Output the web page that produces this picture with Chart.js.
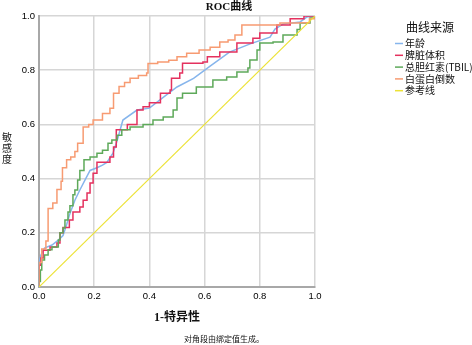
<!DOCTYPE html>
<html>
<head>
<meta charset="utf-8">
<script src="https://cdn.jsdelivr.net/npm/chart.js@4.4.0/dist/chart.umd.min.js"></script>
<style>
  html, body { margin: 0; padding: 0; background: #fff; }
  #wrap { width: 472px; height: 345px; position: relative; }
</style>
</head>
<body>
<div id="wrap"><canvas id="roc" width="472" height="345"></canvas></div>
<script>
// ROC curves, values
var seriesNames = ["年龄", "脾脏体积", "总胆红素(TBIL)", "白蛋白倒数", "参考线"];
var seriesColors = ["#86b5ec", "#e4315e", "#5ea95a", "#f79b72", "#ece236"];
var tickValues = [0.0, 0.2, 0.4, 0.6, 0.8, 1.0];

// 年龄
var ageX = [0, 0, 0.007, 0.02, 0.047, 0.07, 0.087, 0.1, 0.11, 0.13, 0.148, 0.167, 0.185, 0.21, 0.23, 0.246, 0.268, 0.283, 0.304, 0.355, 0.4, 0.45, 0.5, 0.56, 0.62, 0.69, 0.765, 0.837, 0.855, 0.884, 0.946, 0.97, 1];
var ageY = [0, 0.09, 0.118, 0.144, 0.155, 0.173, 0.19, 0.23, 0.265, 0.32, 0.358, 0.395, 0.43, 0.44, 0.45, 0.46, 0.494, 0.54, 0.616, 0.653, 0.66, 0.7, 0.738, 0.77, 0.815, 0.867, 0.897, 0.922, 0.952, 0.97, 0.978, 0.996, 1];

// 脾脏体积
var spleenX = [0, 0, 0.007, 0.015, 0.04, 0.065, 0.076, 0.087, 0.11, 0.123, 0.148, 0.16, 0.174, 0.185, 0.196, 0.21, 0.257, 0.27, 0.28, 0.32, 0.355, 0.377, 0.4, 0.44, 0.475, 0.48, 0.51, 0.52, 0.594, 0.61, 0.655, 0.717, 0.775, 0.8, 0.862, 0.91, 0.96, 1];
var spleenY = [0, 0.08, 0.107, 0.136, 0.148, 0.162, 0.2, 0.22, 0.247, 0.277, 0.295, 0.32, 0.347, 0.384, 0.42, 0.46, 0.48, 0.517, 0.58, 0.6, 0.653, 0.665, 0.68, 0.715, 0.727, 0.77, 0.79, 0.826, 0.83, 0.85, 0.867, 0.9, 0.918, 0.937, 0.967, 0.99, 1, 1];

// 总胆红素(TBIL)
var tbilX = [0, 0, 0.005, 0.01, 0.02, 0.033, 0.047, 0.07, 0.076, 0.087, 0.094, 0.105, 0.112, 0.123, 0.13, 0.14, 0.148, 0.163, 0.185, 0.21, 0.23, 0.25, 0.264, 0.283, 0.3, 0.33, 0.377, 0.413, 0.45, 0.486, 0.5, 0.52, 0.57, 0.63, 0.68, 0.717, 0.757, 0.764, 0.79, 0.8, 0.848, 0.884, 0.935, 0.946, 0.982, 1];
var tbilY = [0, 0.02, 0.063, 0.1, 0.118, 0.137, 0.148, 0.173, 0.2, 0.218, 0.247, 0.277, 0.3, 0.34, 0.358, 0.395, 0.43, 0.47, 0.48, 0.494, 0.505, 0.53, 0.542, 0.56, 0.58, 0.59, 0.6, 0.616, 0.627, 0.653, 0.697, 0.715, 0.738, 0.764, 0.775, 0.793, 0.808, 0.838, 0.875, 0.9, 0.904, 0.93, 0.95, 0.974, 0.993, 1];

// 白蛋白倒数
var albX = [0, 0, 0.01, 0.025, 0.033, 0.05, 0.065, 0.08, 0.085, 0.1, 0.115, 0.13, 0.14, 0.16, 0.18, 0.196, 0.23, 0.257, 0.27, 0.29, 0.31, 0.33, 0.36, 0.39, 0.395, 0.43, 0.47, 0.5, 0.535, 0.58, 0.62, 0.655, 0.685, 0.71, 0.735, 0.8, 0.873, 0.946, 0.98, 1];
var albY = [0, 0.09, 0.14, 0.17, 0.29, 0.31, 0.36, 0.39, 0.44, 0.47, 0.48, 0.5, 0.53, 0.59, 0.6, 0.616, 0.64, 0.66, 0.715, 0.74, 0.755, 0.77, 0.78, 0.79, 0.825, 0.83, 0.837, 0.85, 0.863, 0.875, 0.885, 0.904, 0.911, 0.93, 0.967, 0.967, 0.974, 0.975, 0.99, 1];

// 参考线
var refX = [0, 1];
var refY = [0, 1];

function toPoints(xs, ys) {
    var pts = [];
    for (var i = 0; i < xs.length; i++) pts.push({ x: xs[i], y: ys[i] });
    return pts;
}

var cjk = '"Noto Sans CJK SC", "Liberation Serif", serif';
var serifBold = 'bold 12px "Liberation Serif", "Noto Sans CJK SC", serif';

// titles, axis labels, legend and footnote
var textPlugin = {
    id: 'texts',
    afterDraw: function (chart) {
        var ctx = chart.ctx;
        var area = chart.chartArea;
        ctx.save();
        ctx.fillStyle = '#111';
        ctx.textBaseline = 'middle';

        ctx.textAlign = 'center';
        ctx.font = 'bold 11px "Liberation Serif", "Noto Sans CJK SC", serif';
        ctx.fillText('ROC曲线', 229, 7);

        ctx.font = serifBold;
        ctx.fillText('1-特异性', (area.left + area.right) / 2, 318);

        // vertical y label
        ctx.font = '10px ' + cjk;
        var yl = ['敏', '感', '度'];
        for (var i = 0; i < yl.length; i++) ctx.fillText(yl[i], 7, 137 + i * 11);

        ctx.textAlign = 'left';
        ctx.font = '8px ' + cjk;
        ctx.fillText('对角段由绑定值生成。', 184, 339);

        // legend
        ctx.font = '12px ' + cjk;
        ctx.fillText('曲线来源', 406, 27);
        ctx.font = '10px ' + cjk;
        for (var j = 0; j < seriesNames.length; j++) {
            var ly = 43.5 + j * 11.8;
            ctx.strokeStyle = seriesColors[j];
            ctx.lineWidth = 1.5;
            ctx.beginPath();
            ctx.moveTo(395, ly);
            ctx.lineTo(403, ly);
            ctx.stroke();
            ctx.fillText(seriesNames[j], 405, ly);
        }
        ctx.restore();
    }
};

var ctx = document.getElementById('roc').getContext('2d');
var sets = [
    [ageX, ageY, false],
    [spleenX, spleenY, 'before'],
    [tbilX, tbilY, 'before'],
    [albX, albY, 'before'],
    [refX, refY, false]
];
var datasets = [];
for (var k = 0; k < sets.length; k++) {
    datasets.push({
        label: seriesNames[k],
        data: toPoints(sets[k][0], sets[k][1]),
        borderColor: seriesColors[k],
        borderWidth: k === 4 ? 1.2 : 1.5,
        stepped: sets[k][2],
        showLine: true,
        pointRadius: 0,
        fill: false,
        order: sets.length - k
    });
}

new Chart(ctx, {
    type: 'scatter',
    data: { datasets: datasets },
    options: {
        responsive: false,
        animation: false,
        events: [],
        layout: { padding: { left: 0, top: 16, right: 157, bottom: 0 } },
        plugins: { legend: { display: false }, tooltip: { enabled: false }, title: { display: false } },
        scales: {
            x: {
                type: 'linear', min: 0, max: 1,
                afterBuildTicks: function (s) { s.ticks = tickValues.map(function (v) { return { value: v }; }); },
                afterFit: function (s) { s.height = 58; },
                grid: { color: '#d6d6d6', lineWidth: 1.5, drawTicks: false },
                border: { color: '#a8a8a8', width: 2 },
                ticks: { padding: 4, color: '#000', font: { family: '"Liberation Sans", Arial, sans-serif', size: 9.5 },
                    callback: function (v) { return v.toFixed(1); } }
            },
            y: {
                type: 'linear', min: 0, max: 1,
                afterBuildTicks: function (s) { s.ticks = tickValues.map(function (v) { return { value: v }; }); },
                afterFit: function (s) { s.width = 39; },
                grid: { color: '#d6d6d6', lineWidth: 1.5, drawTicks: false },
                border: { color: '#a8a8a8', width: 2 },
                ticks: { padding: 4, color: '#000', font: { family: '"Liberation Sans", Arial, sans-serif', size: 9.5 },
                    callback: function (v) { return v.toFixed(1); } }
            }
        }
    },
    plugins: [textPlugin]
});
</script>
</body>
</html>
